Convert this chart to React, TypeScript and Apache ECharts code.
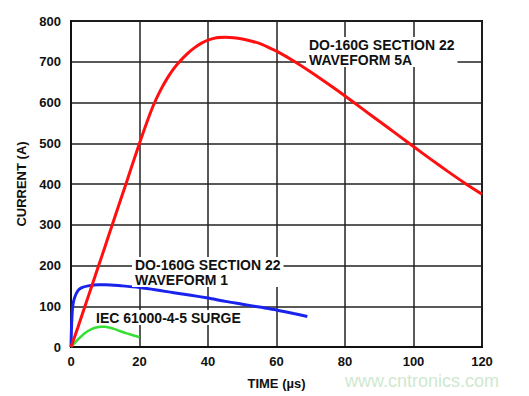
import React, { useEffect, useRef } from "react";
import * as echarts from "echarts";

const xTicks = [0, 20, 40, 60, 80, 100, 120];
const yTicks = [0, 100, 200, 300, 400, 500, 600, 700, 800];

const redT = [0, 2, 4, 6, 8, 10, 12, 14, 16, 18, 20, 22, 24, 26, 28, 30, 32, 34, 36, 38, 40, 42.5, 45, 47.5, 50, 52.5, 55, 57.5, 60, 65, 70, 75, 80, 85, 90, 95, 100, 105, 110, 115, 120];
const redI = [0, 48, 98, 148, 198, 248, 299, 349, 399, 450, 500, 548, 592, 628, 658, 683, 703, 720, 734, 745, 753, 759, 760, 759, 756, 751, 745, 736, 726, 702, 675, 646, 616, 585, 554, 523, 492, 461, 431, 402, 375];

const blueT = [0, 0.2, 0.5, 1, 2, 3, 5, 8, 10, 15, 20, 25, 30, 35, 40, 45, 50, 55, 60, 65, 69];
const blueI = [0, 60, 100, 120, 138, 145, 150, 153, 153, 150, 146, 140, 133, 127, 120, 112, 105, 98, 91, 82, 75];

const greenT = [0, 2, 4, 6, 8, 9, 10, 12, 14, 16, 18, 20];
const greenI = [0, 18, 34, 44, 49, 50, 49.5, 46, 40, 34, 29, 24];

const labels5A = ["DO-160G SECTION 22", "WAVEFORM 5A"];
const labelsW1 = ["DO-160G SECTION 22", "WAVEFORM 1"];
const labelIEC = "IEC 61000-4-5 SURGE";
const watermark = "www.cntronics.com";

const zip = (a: number[], b: number[]) => a.map((v, i) => [v, b[i]]);

export default function App() {
  const ref = useRef<HTMLDivElement>(null);
  useEffect(() => {
    if (!ref.current) return;
    const chart = echarts.init(ref.current, null, { renderer: "svg" });
    const font = "Liberation Sans, Arial, sans-serif";
    const txtStyle = (text: string) => ({
      text,
      fill: "#111",
      font: `bold 14px ${font}`,
      backgroundColor: "#fff",
      padding: [0, 3, 0, 3],
      lineHeight: 15,
    });
    chart.setOption({
      animation: false,
      backgroundColor: "#fff",
      grid: {
        left: 71,
        right: 47,
        top: 21,
        bottom: 49,
        show: true,
        borderColor: "#111",
        borderWidth: 2,
        backgroundColor: "transparent",
      },
      xAxis: {
        type: "value",
        min: xTicks[0],
        max: xTicks[xTicks.length - 1],
        interval: 20,
        name: "TIME (µs)",
        nameLocation: "middle",
        nameGap: 30,
        nameTextStyle: { fontFamily: font, fontWeight: "bold", fontSize: 13, color: "#111" },
        axisLine: { show: true, lineStyle: { color: "#111", width: 2 } },
        axisTick: { show: false },
        axisLabel: { fontFamily: font, fontWeight: "bold", fontSize: 13, color: "#111", margin: 8 },
        splitLine: { show: true, lineStyle: { color: "#222", width: 1.5 } },
      },
      yAxis: {
        type: "value",
        min: yTicks[0],
        max: yTicks[yTicks.length - 1],
        interval: 100,
        name: "CURRENT (A)",
        nameLocation: "middle",
        nameGap: 43,
        nameTextStyle: { fontFamily: font, fontWeight: "bold", fontSize: 13, color: "#111" },
        axisLine: { show: true, lineStyle: { color: "#111", width: 2 } },
        axisTick: { show: false },
        axisLabel: { fontFamily: font, fontWeight: "bold", fontSize: 13, color: "#111", margin: 10 },
        splitLine: { show: true, lineStyle: { color: "#222", width: 1.5 } },
      },
      series: [
        {
          type: "line",
          data: zip(redT, redI),
          smooth: 0.3,
          showSymbol: false,
          lineStyle: { color: "#ff1010", width: 3 },
          z: 5,
        },
        {
          type: "line",
          data: zip(blueT, blueI),
          smooth: 0.3,
          showSymbol: false,
          lineStyle: { color: "#1a22ee", width: 3 },
          z: 4,
        },
        {
          type: "line",
          data: zip(greenT, greenI),
          smooth: 0.3,
          showSymbol: false,
          lineStyle: { color: "#33e033", width: 2.5 },
          z: 4,
        },
      ],
      graphic: [
        { type: "text", left: 306, top: 37, z: 10, style: txtStyle(labels5A.join("\n")) },
        { type: "text", left: 132, top: 257, z: 10, style: txtStyle(labelsW1.join("\n")) },
        { type: "text", left: 93, top: 310, z: 10, style: txtStyle(labelIEC) },
        {
          type: "text",
          left: 345,
          top: 372,
          z: 10,
          style: { text: watermark, fill: "#cfe8cf", font: `18px ${font}` },
        },
      ],
    });
    return () => chart.dispose();
  }, []);
  return <div ref={ref} style={{ position: "absolute", left: 0, top: 0, width: 529, height: 396 }} />;
}
